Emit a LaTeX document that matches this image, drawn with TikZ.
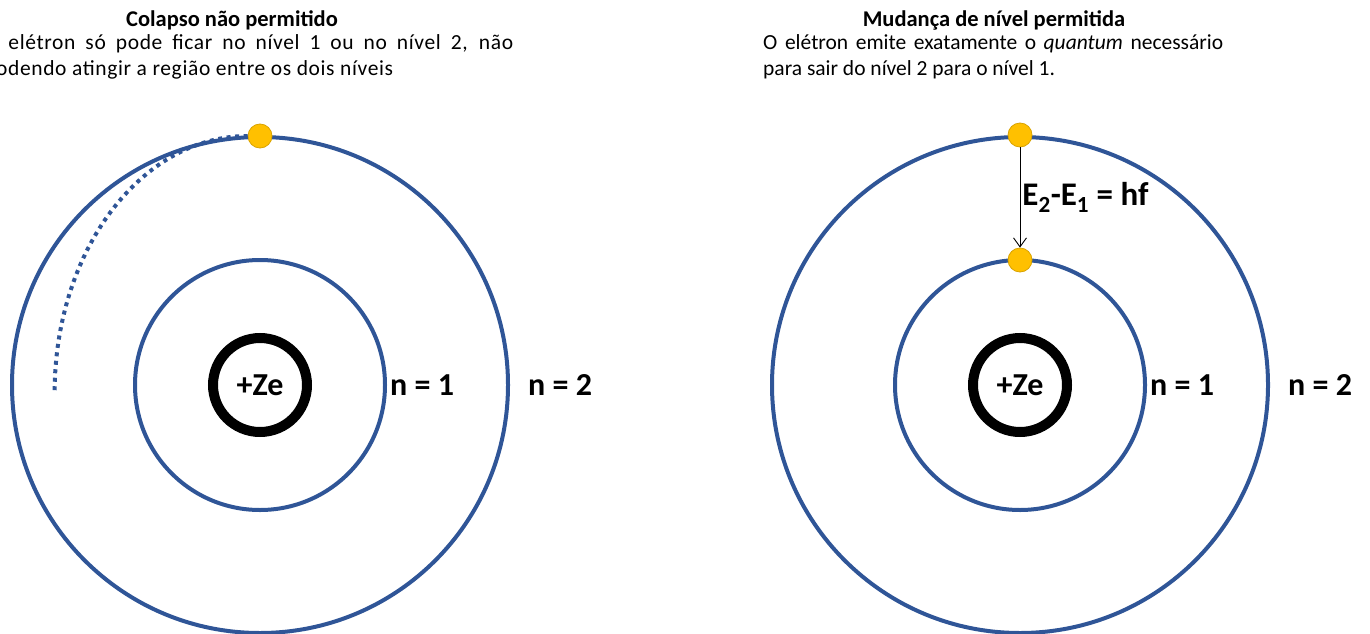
\documentclass[tikz,border=0pt]{standalone}
\usepackage{fontspec}
\setmainfont{Carlito}
\newfontfamily\widefont[LetterSpace=3]{Carlito}
\usetikzlibrary{arrows.meta}
\definecolor{orbitblue}{HTML}{2F5597}
\definecolor{electronfill}{HTML}{FFC000}
\definecolor{electronline}{HTML}{D9A300}

\begin{document}
\begin{tikzpicture}[x=1pt, y=-1pt,
    every node/.style={font=\fontsize{21.5}{26}\selectfont},
    heading/.style={font=\fontsize{22.5}{26}\selectfont\bfseries, anchor=base},
    orbit/.style={draw=orbitblue, line width=4pt},
    collapse/.style={draw=orbitblue, line width=4pt, dash pattern=on 4pt off 4.5pt},
    nucleus/.style={draw, circle, line width=10pt, minimum size=94pt, inner sep=0pt, font=\fontsize{32}{36}\selectfont\bfseries},
    level/.style={anchor=west, inner sep=0pt, font=\fontsize{32}{36}\selectfont\bfseries},
    electron/.style={draw=electronline, fill=electronfill, circle, line width=0.8pt, minimum size=24pt, inner sep=0pt}]
    \useasboundingbox (0,0) rectangle (1370,634);

    % Left atom: collapse not allowed
    \node[heading] (titleL) at (232,27) {Colapso não permitido};
    \node[anchor=north west, inner sep=0pt, text width=529pt, align=justify, font=\fontsize{21.5}{26}\widefont] (textL) at (-16,34) {O elétron só pode ficar no nível 1 ou no nível 2, não\linebreak podendo atingir a região entre os dois níveis};
    \coordinate (cL) at (260,385);
    \draw[orbit] (cL) circle[radius=248];
    \draw[orbit] (cL) circle[radius=125];
    \node[nucleus] (nucL) at (cL) {+Ze};
    \node[level] (n1L) at (390,385) {n = 1};
    \node[level] (n2L) at (528,385) {n = 2};
    \node[electron] (eL) at (260,136) {};
    \draw[collapse] (eL.west) arc[start angle=270, end angle=180, x radius=193, y radius=257];

    % Right atom: allowed level change
    \node[heading] (titleR) at (994,27) {Mudança de nível permitida};
    \node[anchor=north west, inner sep=0pt, text width=460pt, align=justify] (textR) at (763,34) {O elétron emite exatamente o \emph{quantum} necessário\linebreak para sair do nível 2 para o nível 1.};
    \coordinate (cR) at (1020,385);
    \draw[orbit] (cR) circle[radius=248];
    \draw[orbit] (cR) circle[radius=125];
    \node[nucleus] (nucR) at (cR) {+Ze};
    \node[level] (n1R) at (1150,385) {n = 1};
    \node[level] (n2R) at (1288,385) {n = 2};
    \node[electron] (e2) at (1020,135) {};
    \node[electron] (e1) at (1020,260) {};
    \draw[-{Straight Barb[length=9pt, width=13pt]}, line width=0.9pt] (e2) -- node[right, inner sep=2pt, font=\fontsize{33}{36}\selectfont\bfseries] (jump) {E\textsubscript{2}-E\textsubscript{1} = hf} (e1);
\end{tikzpicture}
\end{document}
